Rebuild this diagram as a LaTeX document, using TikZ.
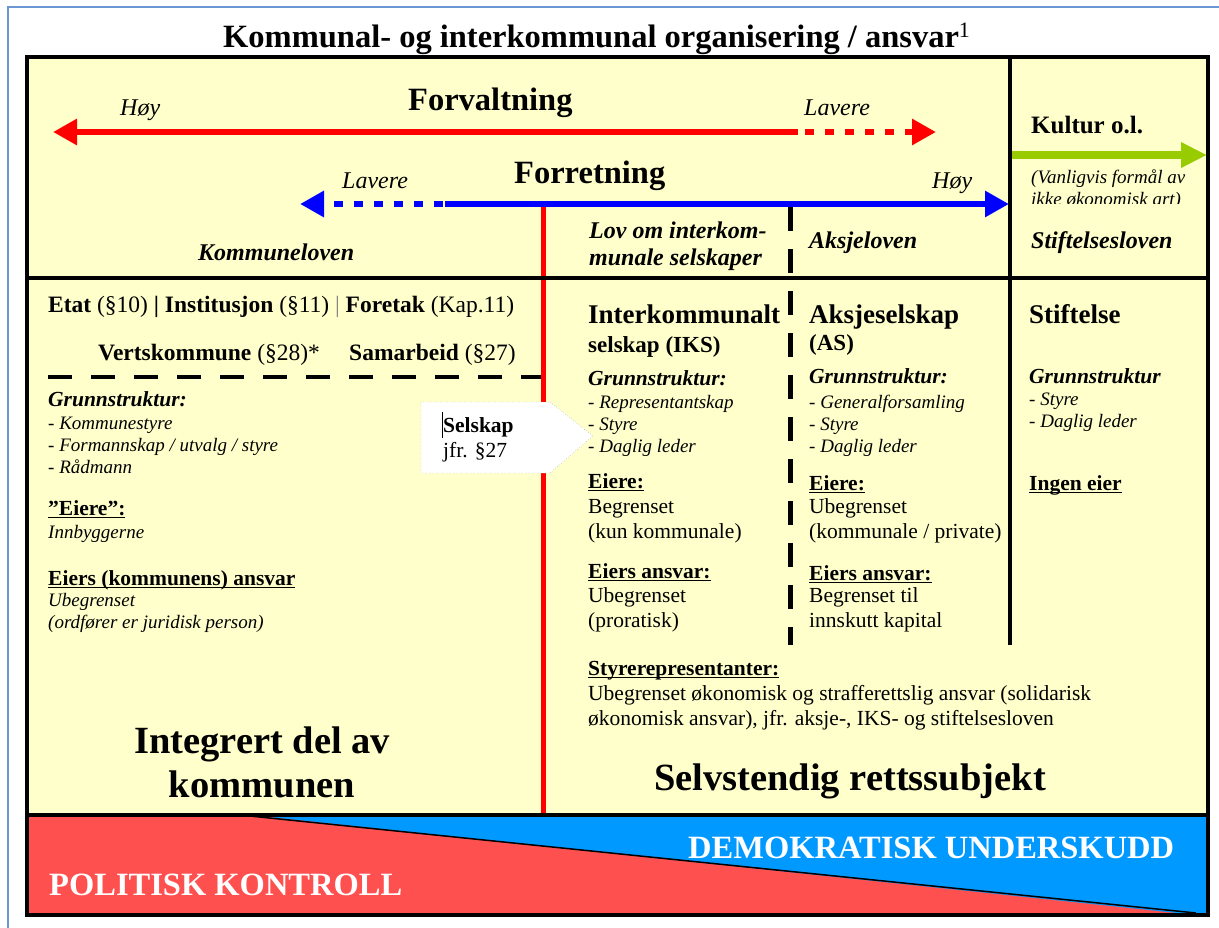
\documentclass[tikz,border=0pt]{standalone}
\usepackage{fontspec}
\setmainfont{Liberation Serif}
\usepackage{tikz}
\usetikzlibrary{
    arrows.meta,
    positioning,
    calc
}
\definecolor{boxyellow}{HTML}{FFFFCC}
\definecolor{arrowred}{HTML}{FF0000}
\definecolor{arrowblue}{HTML}{0000FF}
\definecolor{arrowgreen}{HTML}{99CC00}
\definecolor{bandred}{HTML}{FF5050}
\definecolor{bandblue}{HTML}{0099FF}
\definecolor{pageframe}{HTML}{6A97D4}
\tikzset{
    % Thick scale arrows:
    axis arrow/.style = {
        line width = 6.5pt,
        -{Triangle[length=24pt, width=25pt]}
    },
    dotted arrow/.style = {
        axis arrow,
        dash pattern = on 9pt off 11pt
    },
    % Text rows, placed on the baseline of their last line:
    plain text/.style = {
        anchor = base west,
        inner sep = 0pt,
        align = left,
        font = \fontsize{21.5}{25}\selectfont
    },
    list text/.style = {
        plain text,
        font = \fontsize{19}{22}\selectfont\itshape
    },
    grunn text/.style = {
        plain text,
        font = \fontsize{21.5}{25}\selectfont\bfseries\itshape
    },
    head text/.style = {
        plain text,
        font = \fontsize{27}{30}\selectfont\bfseries
    },
    sub text/.style = {
        plain text,
        font = \fontsize{23}{27}\selectfont\bfseries
    },
    row text/.style = {
        plain text,
        font = \fontsize{23.5}{27}\selectfont
    },
    law text/.style = {
        plain text,
        font = \fontsize{24}{27}\selectfont\bfseries\itshape
    },
    dir text/.style = {
        plain text,
        font = \fontsize{24}{27}\selectfont\itshape
    },
    axis text/.style = {
        plain text,
        font = \fontsize{32.5}{36}\selectfont\bfseries
    },
    big text/.style = {
        anchor = base,
        inner sep = 0pt,
        align = center,
        font = \fontsize{38.5}{44}\selectfont\bfseries
    },
    band text/.style = {
        axis text,
        text = white
    }
}
% underline close under the baseline
\newcommand{\ulined}[1]{\setbox0=\hbox{#1}\rlap{\rule[-3pt]{\wd0}{1.4pt}}\box0}

\begin{document}
\begin{tikzpicture}[x=1pt, y=-1pt]
    \useasboundingbox (0, 0) rectangle (1219, 927);
    \draw [pageframe, line width=1.5pt] (8, 935) -- (8, 7) -- (1225, 7);
    \node (title) [axis text] at (223, 47) {Kommunal- og interkommunal organisering / ansvar\textsuperscript{\mdseries\fontsize{22}{22}\selectfont 1}};

    % background and bottom band
    \fill [boxyellow] (27, 57) rectangle (1208, 815);
    \fill [bandred] (27, 815) rectangle (1208, 915);
    \fill [bandblue] (250, 815) -- (1208, 815) -- (1208, 915) -- (1196, 915) -- cycle;
    \draw [line width=1.5pt] (250, 816) -- (1196, 913);

    % Forvaltning / Forretning / Kultur arrows
    \coordinate (fv left) at (53, 132);
    \coordinate (fv solid) at (798, 132);
    \coordinate (fv dots) at (805, 132);
    \coordinate (fv right) at (936, 132);
    \draw [arrowred, axis arrow] (fv solid) -- (fv left);
    \draw [arrowred, dotted arrow] (fv dots) -- (fv right);
    \coordinate (fr left) at (300, 204);
    \coordinate (fr dots) at (443, 204);
    \coordinate (fr solid) at (445, 204);
    \coordinate (fr right) at (1009, 204);
    \draw [arrowblue, dotted arrow] (fr dots) -- (fr left);
    \draw [arrowblue, axis arrow] (fr solid) -- (fr right);
    \coordinate (ku left) at (1012, 155);
    \coordinate (ku right) at (1207, 155);
    \draw [arrowgreen, line width=8pt, -{Triangle[length=26pt, width=24pt]}] (ku left) -- (ku right);

    % dividers
    \draw [arrowred, line width=5pt] (543, 207) -- (543, 815);
    \draw [line width=5pt, dash pattern=on 24pt off 18pt] (790, 207) -- (790, 645);
    \draw [line width=4.5pt, dash pattern=on 24pt off 19pt] (48, 377) -- (541, 377);
    \draw [line width=4pt] (1010, 57) -- (1010, 645);
    \draw [line width=4pt] (27, 278) -- (1208, 278);
    \draw [line width=4pt] (27, 815) -- (1208, 815);
    \draw [line width=4pt] (27, 57) rectangle (1208, 915);

    % top row labels
    \node (hoy fv) [dir text] at (120, 115) {Høy};
    \node (forvaltning) [axis text] at (408, 110) {Forvaltning};
    \node (lavere fv) [dir text] at (804, 115) {Lavere};
    \node (lavere fr) [dir text] at (342, 188) {Lavere};
    \node (forretning) [axis text] at (514, 183) {Forretning};
    \node (hoy fr) [dir text] at (932, 188) {Høy};
    \node (kultur) [plain text, font=\fontsize{25}{28}\selectfont\bfseries] at (1031, 133) {Kultur o.l.};
    \begin{scope}
        \clip (1014, 160) rectangle (1206, 203);
        \node (vanligvis) [list text] at (1031, 205) {(Vanligvis formål av\\ikke økonomisk art)};
    \end{scope}
    \node (kommuneloven) [law text] at (198, 260) {Kommuneloven};
    \node (lov iks) [law text] at (589, 265) {Lov om interkom-\\munale selskaper};
    \node (aksjeloven) [law text] at (809, 248) {Aksjeloven};
    \node (stiftelsesloven) [law text] at (1031, 248) {Stiftelsesloven};

    % kommunen
    \node (etat) [row text] at (48, 312) {\textbf{Etat} (§10) \textbf{|} \textbf{Institusjon} (§11) {\color{gray}|} \textbf{Foretak} (Kap.11)};
    \node (vertskommune) [row text] at (98, 360) {\textbf{Vertskommune} (§28)*};
    \node (samarbeid) [row text] at (349, 360) {\textbf{Samarbeid} (§27)};
    \node (grunn kom) [grunn text] at (48, 406) {Grunnstruktur:};
    \node (liste kom) [list text] at (48, 473) {- Kommunestyre\\- Formannskap / utvalg / styre\\- Rådmann};
    \node (eiere kom) [plain text] at (48, 515) {\textbf{\ulined{”Eiere”:}}};
    \node (innbyggerne) [list text] at (48, 538) {Innbyggerne};
    \node (ansvar kom) [plain text] at (48, 585) {\textbf{\ulined{Eiers (kommunens) ansvar}}};
    \node (ubegrenset kom) [list text] at (48, 628) {Ubegrenset\\(ordfører er juridisk person)};
    \node (integrert) [big text] at (262, 797) {Integrert del av\\kommunen};

    % callout
    \draw [gray, dotted, fill=white] (421, 402) -- (550, 402) -- (593, 436) -- (550, 473) -- (421, 473) -- cycle;
    \node (selskap) [plain text] at (443, 457) {\textbf{Selskap}\\jfr. §27};
    \draw [line width=0.8pt] (442, 412) -- (442, 438);

    % IKS
    \node (iks) [head text] at (588, 323) {Interkommunalt};
    \node (iks sub) [sub text] at (588, 352) {selskap (IKS)};
    \node (grunn iks) [grunn text] at (588, 385) {Grunnstruktur:};
    \node (liste iks) [list text] at (588, 452) {- Representantskap\\- Styre\\- Daglig leder};
    \node (eiere iks) [plain text] at (588, 488) {\textbf{\ulined{Eiere:}}};
    \node (eiere iks txt) [plain text] at (588, 538) {Begrenset\\(kun kommunale)};
    \node (ansvar iks) [plain text] at (588, 578) {\textbf{\ulined{Eiers ansvar:}}};
    \node (ansvar iks txt) [plain text] at (588, 627) {Ubegrenset\\(proratisk)};

    % AS
    \node (as) [head text] at (809, 323) {Aksjeselskap};
    \node (as sub) [sub text] at (809, 350) {(AS)};
    \node (grunn as) [grunn text] at (809, 383) {Grunnstruktur:};
    \node (liste as) [list text] at (809, 452) {- Generalforsamling\\- Styre\\- Daglig leder};
    \node (eiere as) [plain text] at (809, 490) {\textbf{\ulined{Eiere:}}};
    \node (eiere as txt) [plain text] at (809, 538) {Ubegrenset\\(kommunale / private)};
    \node (ansvar as) [plain text] at (809, 580) {\textbf{\ulined{Eiers ansvar:}}};
    \node (ansvar as txt) [plain text] at (809, 627) {Begrenset til\\innskutt kapital};

    % stiftelse
    \node (stiftelse) [head text] at (1029, 323) {Stiftelse};
    \node (grunn st) [grunn text] at (1029, 383) {Grunnstruktur};
    \node (liste st) [list text] at (1029, 427) {- Styre\\- Daglig leder};
    \node (ingen eier) [plain text] at (1029, 490) {\textbf{\ulined{Ingen eier}}};

    \node (styre) [plain text] at (588, 675) {\textbf{\ulined{Styrerepresentanter:}}};
    \node (styre txt) [plain text] at (588, 725) {Ubegrenset økonomisk og strafferettslig ansvar (solidarisk\\økonomisk ansvar), jfr. aksje-, IKS- og stiftelsesloven};
    \node (selvstendig) [big text] at (850, 790) {Selvstendig rettssubjekt};

    \node (demokratisk) [band text] at (688, 858) {DEMOKRATISK UNDERSKUDD};
    \node (politisk) [band text] at (49, 895) {POLITISK KONTROLL};
\end{tikzpicture}
\end{document}
